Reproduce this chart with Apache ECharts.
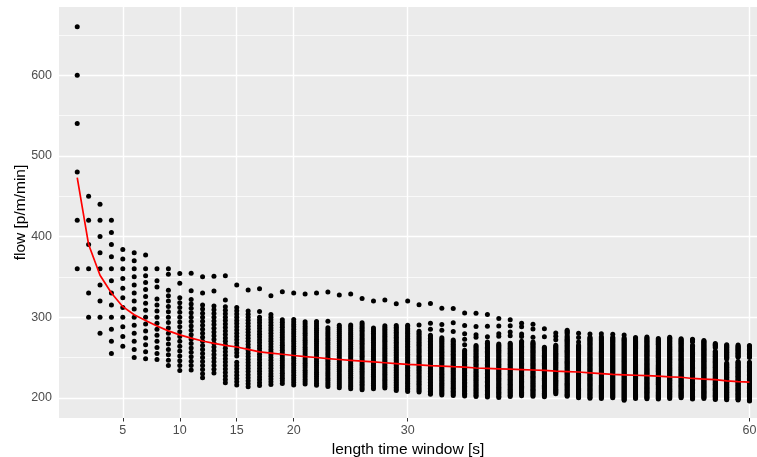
<!DOCTYPE html>
<html>
<head>
<meta charset="utf-8">
<script src="https://cdn.jsdelivr.net/npm/echarts@6/dist/echarts.min.js"></script>
<style>
  html, body { margin: 0; padding: 0; background: #ffffff; }
  #chart { width: 757px; height: 457px; }
</style>
</head>
<body>
<div id="chart"></div>
<script>
// Length of the counting time window, seconds
const windowSec = [
  1, 2, 3, 4, 5, 6, 7, 8, 9, 10,
  11, 12, 13, 14, 15, 16, 17, 18, 19, 20,
  21, 22, 23, 24, 25, 26, 27, 28, 29, 30,
  31, 32, 33, 34, 35, 36, 37, 38, 39, 40,
  41, 42, 43, 44, 45, 46, 47, 48, 49, 50,
  51, 52, 53, 54, 55, 56, 57, 58, 59, 60
];

// Observed person counts per window, as inclusive runs [from, to]
const countRuns = [
  [[6, 11]],
  [[10, 15]],
  [[14, 22]],
  [[17, 28]],
  [[22, 32]],
  [[25, 38]],
  [[29, 42], [44, 44]],
  [[33, 43], [45, 46], [48, 48]],
  [[36, 50], [53, 54]],
  [[39, 54], [57, 57], [59, 59]],
  [[43, 59], [61, 61], [65, 65]],
  [[45, 63], [66, 66], [70, 70]],
  [[50, 68], [72, 72], [76, 76]],
  [[51, 73], [75, 75], [82, 82]],
  [[54, 61], [63, 78], [85, 85]],
  [[57, 82], [89, 89]],
  [[61, 85], [87, 87], [95, 95]],
  [[65, 91], [98, 98]],
  [[69, 94], [105, 105]],
  [[72, 99], [110, 110]],
  [[76, 103], [115, 115]],
  [[79, 108], [121, 121]],
  [[82, 110], [113, 113], [127, 127]],
  [[85, 116], [131, 131]],
  [[88, 121], [137, 137]],
  [[91, 127], [140, 140]],
  [[95, 129], [144, 144]],
  [[99, 135], [150, 150]],
  [[101, 140], [153, 153]],
  [[104, 145], [160, 160]],
  [[107, 146], [150, 150], [163, 163]],
  [[109, 148], [152, 152], [156, 156], [169, 169]],
  [[112, 151], [156, 156], [160, 160], [171, 171]],
  [[115, 154], [160, 160], [166, 166], [176, 176]],
  [[118, 151], [155, 155], [159, 159], [163, 163], [169, 169], [178, 178]],
  [[121, 159], [165, 165], [167, 167], [173, 173], [183, 183]],
  [[124, 166], [170, 170], [178, 178], [187, 187]],
  [[127, 169], [175, 175], [177, 177], [183, 183], [189, 189]],
  [[131, 174], [180, 180], [183, 183], [188, 188], [193, 193]],
  [[135, 180], [184, 184], [186, 186], [192, 192], [195, 195]],
  [[138, 184], [188, 188], [195, 195], [199, 199]],
  [[141, 184], [193, 193], [200, 200]],
  [[147, 190], [195, 195], [198, 198], [201, 201]],
  [[148, 203], [205, 208]],
  [[150, 199], [202, 202], [206, 206], [210, 210]],
  [[153, 211], [214, 214]],
  [[156, 216], [219, 219]],
  [[160, 220], [223, 223]],
  [[161, 224], [227, 227]],
  [[166, 229]],
  [[169, 234]],
  [[172, 237]],
  [[176, 243]],
  [[180, 246]],
  [[182, 243], [247, 250]],
  [[186, 253]],
  [[188, 245], [249, 254]],
  [[191, 235], [240, 257]],
  [[194, 241], [246, 261]],
  [[196, 244], [250, 265]]
];

// Mean flow per window length, p/m/min
const meanFlow = [
  473, 390, 352, 330, 313, 303, 296, 289, 283, 278,
  274, 270.5, 267.5, 265, 263, 260, 257, 255.5, 254, 252.5,
  251, 250, 248.5, 247.5, 246.5, 245.5, 244.5, 243.5, 242.5, 241.5,
  240.8, 240, 239.3, 238.6, 238, 237, 236.5, 236, 235.5, 235,
  234.5, 234, 233, 232.5, 232, 231, 230, 229, 228.5, 228,
  227.5, 227, 226, 225.5, 224, 223.3, 222.5, 221, 220, 219.5
];

const xTicks = [5, 10, 15, 20, 30, 60];
const yTicks = [200, 300, 400, 500, 600];
const yMinorTicks = [250, 350, 450, 550, 650];

// Flow = persons counted per window, scaled to one minute
const points = [];
windowSec.forEach((w, i) => {
  countRuns[i].forEach(([from, to]) => {
    for (let c = from; c <= to; c++) points.push([w, c * 60 / w]);
  });
});
const meanLine = windowSec.map((w, i) => [w, meanFlow[i]]);

const FONT = '"Liberation Sans", Arial, sans-serif';

const gridLines = [
  ...xTicks.map(v => ({ xAxis: v, lineStyle: { width: 1.4 } })),
  ...yTicks.map(v => ({ yAxis: v, lineStyle: { width: 1.4 } })),
  ...yMinorTicks.map(v => ({ yAxis: v, lineStyle: { width: 0.7 } }))
];

const chart = echarts.init(document.getElementById('chart'), null, { renderer: 'canvas' });
chart.setOption({
  animation: false,
  backgroundColor: '#ffffff',
  grid: {
    left: 59, right: 0, top: 7, bottom: 39,
    show: true, backgroundColor: '#EBEBEB', borderWidth: 0,
    outerBoundsMode: 'none'
  },
  xAxis: {
    type: 'value',
    min: -0.6, max: 60.66,
    name: 'length time window [s]',
    nameLocation: 'middle',
    nameGap: 19,
    nameTextStyle: { fontFamily: FONT, fontSize: 15.5, color: '#000000' },
    axisLine: { show: false },
    splitLine: { show: false },
    axisTick: {
      show: true, length: 3.5, customValues: xTicks,
      lineStyle: { color: '#333333', width: 1 }
    },
    axisLabel: {
      customValues: xTicks, margin: 6,
      fontFamily: FONT, fontSize: 12.5, color: '#4D4D4D'
    }
  },
  yAxis: {
    type: 'value',
    min: 175, max: 684.5,
    name: 'flow [p/m/min]',
    nameLocation: 'middle',
    nameGap: 30,
    nameMoveOverlap: false,
    nameRotate: 90,
    nameTextStyle: { fontFamily: FONT, fontSize: 15.5, color: '#000000' },
    axisLine: { show: false },
    splitLine: { show: false },
    axisTick: {
      show: true, length: 3.5, customValues: yTicks,
      lineStyle: { color: '#333333', width: 1 }
    },
    axisLabel: {
      customValues: yTicks, margin: 7,
      fontFamily: FONT, fontSize: 12.5, color: '#4D4D4D'
    }
  },
  series: [
    {
      name: 'grid',
      type: 'line',
      data: [],
      z: 1,
      silent: true,
      markLine: {
        z: 1,
        silent: true,
        animation: false,
        symbol: ['none', 'none'],
        label: { show: false },
        lineStyle: { color: '#FFFFFF', type: 'solid', width: 1.4 },
        emphasis: { disabled: true },
        data: gridLines
      }
    },
    {
      name: 'flow',
      type: 'scatter',
      data: points,
      symbol: 'circle',
      symbolSize: 5,
      progressive: 0,
      itemStyle: { color: '#000000', opacity: 1 },
      z: 3,
      silent: true
    },
    {
      name: 'mean',
      type: 'line',
      data: meanLine,
      showSymbol: false,
      symbol: 'none',
      lineStyle: { color: '#FF0000', width: 1.7 },
      z: 4,
      silent: true
    }
  ]
});
</script>
</body>
</html>
